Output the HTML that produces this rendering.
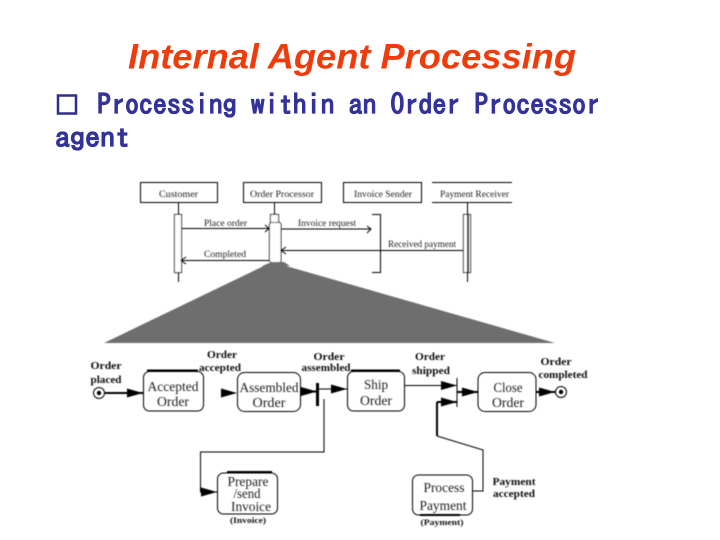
<!DOCTYPE html>
<html><head><meta charset="utf-8"><style>
html,body{margin:0;padding:0;background:#fff;width:720px;height:540px;overflow:hidden}
svg{display:block}
.s{font-family:"Liberation Serif",serif;fill:#222}
.b{font-family:"Liberation Serif",serif;font-weight:bold;fill:#111}
</style></head><body>
<svg width="720" height="540" viewBox="0 0 720 540" xmlns="http://www.w3.org/2000/svg">
<defs>
<filter id="bl" x="-5%" y="-5%" width="110%" height="110%"><feGaussianBlur stdDeviation="0.5"/></filter>
<g id="ah"><path d="M-16,-4.500 L0,0 L-16,4.500 Z" fill="#000"/></g>
</defs>
<text x="128" y="68.500" font-family="Liberation Sans,sans-serif" font-size="35" font-weight="bold" font-style="italic" fill="#f03c0c" textLength="448" lengthAdjust="spacingAndGlyphs">Internal Agent Processing</text>
<rect x="58" y="95.500" width="18" height="18" fill="none" stroke="#2f2f8a" stroke-width="2.500"/>
<text x="97" y="114.500" font-family="IPAGothic,'Liberation Mono',monospace" font-size="28" font-weight="bold" fill="#333399" stroke="#333399" stroke-width="0.300" textLength="503" lengthAdjust="spacingAndGlyphs">Processing within an Order Processor</text>
<text x="55" y="147.500" font-family="IPAGothic,'Liberation Mono',monospace" font-size="28" font-weight="bold" fill="#333399" stroke="#333399" stroke-width="0.300" textLength="75" lengthAdjust="spacingAndGlyphs">agent</text>

<g filter="url(#bl)">
<g fill="none" stroke="#000" stroke-width="1">
<rect x="140.500" y="182.500" width="77" height="20"/>
<rect x="243.500" y="182.500" width="78" height="20"/>
<rect x="343.500" y="182.500" width="78" height="20"/>
<path d="M432,182.500H512M432,202.500H512"/>
<path d="M178.500,202V282M274.500,202V222M467.500,202V282"/>
<rect x="174.500" y="214.500" width="7" height="58" fill="#fff"/>
<rect x="270.500" y="214.500" width="8" height="8" fill="#fff"/>
<rect x="269.500" y="222.500" width="11.500" height="40" rx="2" fill="#fff"/>
<path d="M372,214.500H380.500V272.500H372"/>
<rect x="463.500" y="214.500" width="7" height="58" fill="#fff"/>
<path d="M468,214.500V272" stroke-width="2"/>
<path d="M181,228.500H269M265,225L269,228.500L265,232"/>
<path d="M281,229H371M367,226L371,229L367,233"/>
<path d="M463,250.500H281M286,247L281,250.500L286,254"/>
<path d="M269,260.500H181M186,257L181,260.500L186,264"/>
</g>
<g class="s" font-size="9.500">
<text x="159" y="197" textLength="39" lengthAdjust="spacingAndGlyphs">Customer</text>
<text x="250" y="197" textLength="64" lengthAdjust="spacingAndGlyphs">Order Processor</text>
<text x="354" y="197" textLength="58" lengthAdjust="spacingAndGlyphs">Invoice Sender</text>
<text x="440" y="197" textLength="69" lengthAdjust="spacingAndGlyphs">Payment Receiver</text>
<text x="204" y="226" textLength="43" lengthAdjust="spacingAndGlyphs">Place order</text>
<text x="298" y="226" textLength="58" lengthAdjust="spacingAndGlyphs">Invoice request</text>
<text x="388" y="247" textLength="68" lengthAdjust="spacingAndGlyphs">Received payment</text>
<text x="204" y="257" textLength="42" lengthAdjust="spacingAndGlyphs">Completed</text>
</g>
<polygon points="272,262 104,343 555,343" fill="#6e6e6e"/>
<polygon points="262,266 272,262 284,262 290,266" fill="#6e6e6e"/>

<g fill="none" stroke="#000" stroke-width="1">
<rect x="143.500" y="371.500" width="60" height="39.500" rx="6"/>
<rect x="237.500" y="372.500" width="63" height="39" rx="7"/>
<rect x="347.500" y="371.500" width="57" height="39.500" rx="6"/>
<rect x="478" y="372.500" width="58" height="39" rx="7"/>
<rect x="217.500" y="473" width="60" height="41" rx="6"/>
<rect x="412.500" y="475" width="60" height="40" rx="6"/>
<path d="M147,370.500H198M227,472H272" stroke-width="2"/>
<path d="M351,370.500H400M420,515H460" stroke-width="2"/>
<circle cx="99" cy="393" r="5.500"/>
<circle cx="561" cy="392" r="5.500"/>
<path d="M105,393H143" stroke-width="2"/>
<path d="M317,389H347M324,399V452H200.500V492H217"/>
<path d="M404,385.500H457"/>
<path d="M437,402H457" stroke-width="2"/>
<path d="M437,436L483,450V491H472"/>
<path d="M437,402V436" stroke-width="2"/>
<path d="M457,378V407"/>
<path d="M457,392H478" stroke-width="2"/>
<path d="M536,392H555" stroke-width="2"/>
<path d="M300,391.500H316" stroke-width="2"/>
<path d="M317.500,383V406" stroke-width="3"/>
</g>
<circle cx="99" cy="393" r="2.200" fill="#000"/>
<circle cx="561" cy="392" r="2.200" fill="#000"/>
<use href="#ah" x="143" y="393"/>
<use href="#ah" x="237" y="393"/>
<use href="#ah" x="317" y="391.500"/>
<use href="#ah" x="347" y="389"/>
<use href="#ah" x="217" y="492"/>
<use href="#ah" x="457" y="385.500"/>
<use href="#ah" x="457" y="402"/>
<use href="#ah" x="478" y="392"/>
<use href="#ah" x="555" y="392"/>
<g class="s" font-size="14" text-anchor="middle">
<text x="173" y="391" textLength="51" lengthAdjust="spacingAndGlyphs">Accepted</text>
<text x="173" y="406" textLength="32" lengthAdjust="spacingAndGlyphs">Order</text>
<text x="269" y="392" textLength="59" lengthAdjust="spacingAndGlyphs">Assembled</text>
<text x="269" y="407" textLength="33" lengthAdjust="spacingAndGlyphs">Order</text>
<text x="376" y="389" textLength="24" lengthAdjust="spacingAndGlyphs">Ship</text>
<text x="376" y="405" textLength="32" lengthAdjust="spacingAndGlyphs">Order</text>
<text x="508" y="392" textLength="29" lengthAdjust="spacingAndGlyphs">Close</text>
<text x="508" y="407" textLength="32" lengthAdjust="spacingAndGlyphs">Order</text>
<text x="248" y="486" textLength="41" lengthAdjust="spacingAndGlyphs">Prepare</text>
<text x="247" y="498" textLength="27" lengthAdjust="spacingAndGlyphs">/send</text>
<text x="251" y="511" textLength="40" lengthAdjust="spacingAndGlyphs">Invoice</text>
<text x="444" y="492" textLength="41" lengthAdjust="spacingAndGlyphs">Process</text>
<text x="443" y="510" textLength="47" lengthAdjust="spacingAndGlyphs">Payment</text>
</g>
<g class="b" font-size="10.500" text-anchor="middle">
<text x="106" y="369" textLength="31" lengthAdjust="spacingAndGlyphs">Order</text>
<text x="106" y="383" textLength="31" lengthAdjust="spacingAndGlyphs">placed</text>
<text x="222" y="358" textLength="30" lengthAdjust="spacingAndGlyphs">Order</text>
<text x="220" y="371" textLength="42" lengthAdjust="spacingAndGlyphs">accepted</text>
<text x="329" y="360" textLength="31" lengthAdjust="spacingAndGlyphs">Order</text>
<text x="326" y="371" textLength="49" lengthAdjust="spacingAndGlyphs">assembled</text>
<text x="430" y="360" textLength="30" lengthAdjust="spacingAndGlyphs">Order</text>
<text x="431" y="374" textLength="38" lengthAdjust="spacingAndGlyphs">shipped</text>
<text x="556" y="365" textLength="31" lengthAdjust="spacingAndGlyphs">Order</text>
<text x="563" y="378" textLength="49" lengthAdjust="spacingAndGlyphs">completed</text>
<text x="514" y="485" textLength="43" lengthAdjust="spacingAndGlyphs">Payment</text>
<text x="514" y="497" textLength="42" lengthAdjust="spacingAndGlyphs">accepted</text>
</g>
<g class="b" font-size="8.500" text-anchor="middle">
<text x="248" y="523" textLength="36" lengthAdjust="spacingAndGlyphs">(Invoice)</text>
<text x="442" y="525" textLength="43" lengthAdjust="spacingAndGlyphs">(Payment)</text>
</g>
</g>
</svg>
</body></html>
